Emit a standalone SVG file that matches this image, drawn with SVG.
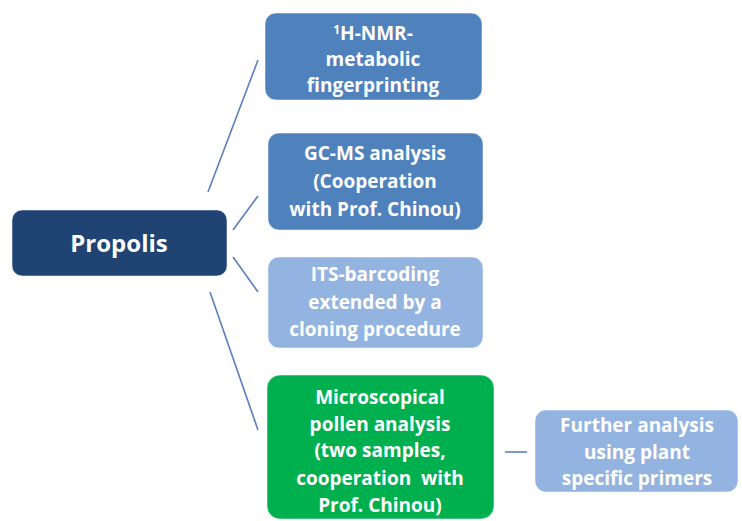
<svg xmlns="http://www.w3.org/2000/svg" width="742" height="521" viewBox="0 0 742 521">
<style>
.box{stroke:#ffffff;stroke-opacity:0.5;stroke-width:1}
.mid{fill:#4f81bd}
.dark{fill:#1f4373}
.light{fill:#93b4e0}
.green{fill:#00b04f}
.t{font-family:"Open Sans","Liberation Sans",sans-serif;font-weight:bold;fill:#ffffff;text-anchor:middle;font-size:19px}
.big{font-size:24px}
.c{stroke:#5a7fbf;stroke-width:1.6;fill:none}
</style>
<rect width="742" height="521" fill="#ffffff"/>
<g id="connectors">
<line class="c" x1="258" y1="60" x2="208" y2="192"/>
<line class="c" x1="258" y1="196" x2="233" y2="230"/>
<line class="c" x1="233" y1="257" x2="258" y2="292"/>
<line class="c" x1="210" y1="292" x2="258" y2="430"/>
<line class="c" x1="505" y1="452" x2="527" y2="452"/>
</g>
<g id="propolis">
<rect class="box dark" x="12" y="210" width="215" height="66" rx="10"/>
<text class="t big" x="119" y="252">Propolis</text>
</g>
<g id="nmr">
<rect class="box mid" x="265" y="13" width="217" height="87" rx="11"/>
<text class="t" x="373" y="40"><tspan font-size="12" dy="-6">1</tspan><tspan dy="6">H-NMR-</tspan></text>
<text class="t" x="373" y="66">metabolic</text>
<text class="t" x="373" y="92">fingerprinting</text>
</g>
<g id="gcms">
<rect class="box mid" x="268" y="133" width="215" height="97" rx="11"/>
<text class="t" x="375" y="160">GC-MS analysis</text>
<text class="t" x="375" y="188">(Cooperation</text>
<text class="t" x="375" y="216">with Prof. Chinou)</text>
</g>
<g id="its">
<rect class="box light" x="268" y="257" width="215" height="91" rx="11"/>
<text class="t" x="375" y="281">ITS-barcoding</text>
<text class="t" x="375" y="309">extended by a</text>
<text class="t" x="375" y="336">cloning procedure</text>
</g>
<g id="pollen">
<rect class="box green" x="267" y="375" width="227" height="144" rx="13"/>
<text class="t" x="380" y="404">Microscopical</text>
<text class="t" x="380" y="431">pollen analysis</text>
<text class="t" x="380" y="457">(two samples,</text>
<text class="t" x="380" y="485" xml:space="preserve">cooperation  with</text>
<text class="t" x="380" y="512">Prof. Chinou)</text>
</g>
<g id="further">
<rect class="box light" x="535" y="410" width="203" height="82" rx="11"/>
<text class="t" x="637" y="432">Further analysis</text>
<text class="t" x="637" y="459">using plant</text>
<text class="t" x="637" y="485">specific primers</text>
</g>
</svg>
